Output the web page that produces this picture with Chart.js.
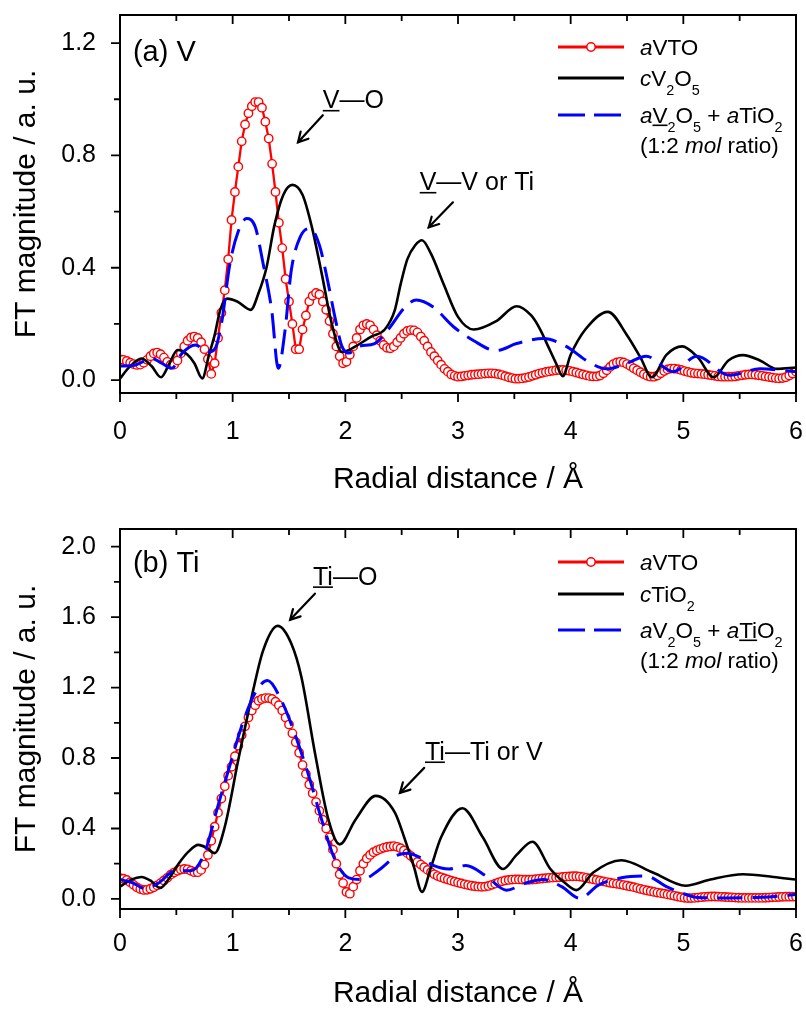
<!DOCTYPE html>
<html><head><meta charset="utf-8">
<script src="https://cdn.jsdelivr.net/npm/chart.js@4/dist/chart.umd.min.js"></script>
<style>
html,body{margin:0;padding:0;background:#fff;}
#wrap{position:relative;width:806px;height:1009px;background:#fff;}
#ca{position:absolute;left:0;top:0;}
#cb{position:absolute;left:0;top:505px;}
</style></head><body>
<div id="wrap"><canvas id="ca" width="806" height="505"></canvas><canvas id="cb" width="806" height="504"></canvas></div>
<script>
const FONT = '"Liberation Sans", Arial, Helvetica, sans-serif';

// ---------- ticks ----------
const xTickValues = [0,1,2,3,4,5,6];
const xTickLabels = ['0','1','2','3','4','5','6'];
const xTickMarks = [0,0.5,1,1.5,2,2.5,3,3.5,4,4.5,5,5.5,6];
const yTickValuesA = [0,0.4,0.8,1.2];
const yTickLabelsA = ['0.0','0.4','0.8','1.2'];
const yTickMarksA = [0,0.2,0.4,0.6,0.8,1.0,1.2];
const yTickValuesB = [0,0.4,0.8,1.2,1.6,2.0];
const yTickLabelsB = ['0.0','0.4','0.8','1.2','1.6','2.0'];
const yTickMarksB = [0,0.2,0.4,0.6,0.8,1.0,1.2,1.4,1.6,1.8,2.0];

// ---------- (a) V K-edge ----------
const rStep = 0.03; // radial sampling of the aVTO curves (Å)
const aVTO_V = [
0.074,0.072,0.068,0.062,0.057,0.054,0.055,0.062,0.072,0.085,
0.095,0.098,0.092,0.08,0.065,0.055,0.055,0.07,0.095,0.12,
0.14,0.152,0.155,0.15,0.135,0.11,0.075,0.022,0.06,0.15,
0.24,0.32,0.43,0.57,0.67,0.76,0.85,0.91,0.95,0.975,
0.99,0.99,0.97,0.92,0.86,0.77,0.67,0.56,0.47,0.36,
0.28,0.20,0.11,0.11,0.18,0.23,0.28,0.30,0.31,0.305,
0.28,0.25,0.21,0.165,0.12,0.085,0.06,0.065,0.09,0.12,
0.15,0.18,0.195,0.2,0.195,0.18,0.16,0.14,0.125,0.115,
0.113,0.12,0.135,0.15,0.165,0.175,0.178,0.177,0.17,0.155,
0.14,0.12,0.10,0.085,0.07,0.055,0.04,0.03,0.02,0.015,
0.012,0.013,0.015,0.017,0.019,0.02,0.021,0.022,0.023,0.024,
0.024,0.023,0.021,0.018,0.014,0.01,0.007,0.005,0.005,0.006,
0.008,0.011,0.015,0.019,0.023,0.026,0.029,0.031,0.033,0.035,
0.036,0.036,0.035,0.033,0.03,0.027,0.023,0.02,0.017,0.014,
0.013,0.013,0.016,0.024,0.035,0.047,0.057,0.063,0.065,0.063,
0.057,0.05,0.042,0.035,0.028,0.021,0.015,0.012,0.012,0.016,
0.024,0.032,0.038,0.041,0.041,0.039,0.036,0.032,0.029,0.026,
0.024,0.023,0.022,0.021,0.019,0.017,0.015,0.013,0.012,0.012,
0.012,0.012,0.013,0.015,0.017,0.019,0.02,0.02,0.019,0.017,
0.015,0.013,0.011,0.009,0.007,0.006,0.007,0.01,0.016,0.023,
0.03];

const cV2O5_r = [0,0.08,0.19,0.28,0.364,0.44,0.51,0.6,0.66,0.73,0.79,0.84,0.89,0.95,1.04,1.16,1.23,1.30,1.37,1.45,1.53,1.62,1.70,1.79,1.88,1.97,2.09,2.23,2.35,2.44,2.49,2.55,2.62,2.68,2.76,2.87,3.0,3.14,3.34,3.52,3.65,3.73,3.80,3.87,3.93,4.0,4.13,4.33,4.5,4.62,4.72,4.85,4.99,5.13,5.27,5.40,5.53,5.68,5.83,6.0];
const cV2O5_V = [0.005,0.045,0.077,0.05,0.01,0.06,0.107,0.09,0.06,0.006,0.09,0.16,0.25,0.29,0.28,0.25,0.31,0.40,0.55,0.66,0.695,0.66,0.55,0.38,0.2,0.10,0.12,0.155,0.18,0.25,0.34,0.43,0.48,0.498,0.45,0.344,0.225,0.18,0.21,0.263,0.23,0.18,0.12,0.06,0.014,0.09,0.18,0.243,0.16,0.08,0.01,0.09,0.12,0.08,0.01,0.07,0.089,0.07,0.04,0.045];

const mixV_r = [0,0.13,0.28,0.37,0.46,0.55,0.67,0.78,0.84,0.9,0.976,1.05,1.124,1.2,1.27,1.346,1.405,1.465,1.52,1.6,1.686,1.77,1.85,1.91,1.97,2.03,2.12,2.26,2.38,2.53,2.63,2.78,2.96,3.14,3.34,3.52,3.76,3.96,4.17,4.32,4.5,4.67,4.91,5.12,5.41,5.68,6.0];
const mixV_V = [0.05,0.053,0.077,0.06,0.042,0.095,0.125,0.10,0.11,0.20,0.415,0.53,0.575,0.546,0.415,0.25,0.042,0.178,0.39,0.51,0.54,0.48,0.34,0.22,0.12,0.096,0.12,0.13,0.18,0.26,0.285,0.26,0.19,0.14,0.105,0.13,0.148,0.12,0.062,0.04,0.06,0.085,0.03,0.085,0.017,0.04,0.03];

// ---------- (b) Ti K-edge ----------
const aVTO_Ti = [
0.118,0.115,0.108,0.095,0.08,0.066,0.056,0.051,0.052,0.058,
0.066,0.077,0.09,0.105,0.12,0.138,0.15,0.16,0.167,0.17,
0.168,0.16,0.152,0.152,0.165,0.195,0.25,0.33,0.41,0.49,
0.57,0.64,0.70,0.75,0.81,0.87,0.93,0.98,1.03,1.07,
1.10,1.125,1.135,1.14,1.14,1.135,1.12,1.10,1.07,1.03,
0.99,0.94,0.89,0.83,0.76,0.71,0.65,0.60,0.55,0.50,
0.45,0.40,0.35,0.28,0.20,0.14,0.09,0.04,0.03,0.07,
0.11,0.16,0.20,0.23,0.25,0.265,0.275,0.283,0.29,0.295,
0.298,0.30,0.296,0.288,0.275,0.26,0.245,0.228,0.21,0.195,
0.18,0.165,0.152,0.14,0.13,0.123,0.116,0.11,0.104,0.098,
0.093,0.088,0.083,0.079,0.075,0.072,0.07,0.069,0.07,0.074,
0.08,0.087,0.094,0.10,0.105,0.108,0.11,0.111,0.111,0.11,
0.109,0.109,0.11,0.112,0.114,0.116,0.118,0.12,0.121,0.122,
0.123,0.125,0.127,0.128,0.129,0.129,0.127,0.124,0.12,0.116,
0.112,0.108,0.104,0.10,0.096,0.092,0.089,0.086,0.083,0.079,
0.075,0.071,0.067,0.062,0.057,0.052,0.048,0.044,0.04,0.036,
0.033,0.03,0.026,0.022,0.018,0.014,0.01,0.007,0.005,0.005,
0.006,0.008,0.01,0.012,0.013,0.014,0.014,0.013,0.012,0.011,
0.01,0.009,0.008,0.007,0.006,0.006,0.006,0.006,0.006,0.006,
0.006,0.007,0.008,0.009,0.01,0.011,0.012,0.013,0.013,0.013,
0.013];

const cTiO2_r = [0,0.1,0.19,0.28,0.355,0.44,0.52,0.61,0.695,0.77,0.84,0.93,1.05,1.17,1.27,1.40,1.52,1.61,1.73,1.85,1.95,2.09,2.27,2.44,2.53,2.61,2.68,2.76,2.85,3.04,3.22,3.40,3.52,3.66,3.82,3.95,4.05,4.2,4.45,4.73,5.02,5.24,5.53,5.8,6.0];
const cTiO2_Ti = [0.07,0.11,0.125,0.1,0.062,0.12,0.2,0.27,0.307,0.29,0.26,0.41,0.79,1.15,1.41,1.55,1.45,1.26,0.83,0.45,0.31,0.45,0.585,0.49,0.335,0.18,0.04,0.18,0.35,0.515,0.35,0.17,0.25,0.325,0.17,0.09,0.05,0.15,0.22,0.15,0.075,0.11,0.14,0.125,0.11];

const mixTi_r = [0,0.1,0.22,0.34,0.49,0.63,0.75,0.87,0.99,1.08,1.2,1.31,1.43,1.55,1.67,1.79,1.91,2.03,2.15,2.29,2.47,2.55,2.68,2.78,2.92,3.07,3.25,3.43,3.6,3.76,3.92,4.08,4.25,4.45,4.67,4.85,5.0,5.13,5.4,5.7,6.0];
const mixTi_Ti = [0.11,0.095,0.06,0.09,0.16,0.16,0.26,0.53,0.79,0.98,1.17,1.24,1.13,0.94,0.71,0.45,0.22,0.12,0.11,0.16,0.25,0.26,0.23,0.19,0.17,0.19,0.13,0.05,0.09,0.11,0.07,0.004,0.08,0.12,0.13,0.07,0.03,0.008,0.006,0.01,0.025];

// ---------- helpers ----------
function xyFromGrid(vals){ return vals.map((v,i)=>({x:+(i*rStep).toFixed(4), y:v})); }
function xyPairs(xs, ys){ return xs.map((x,i)=>({x:x, y:ys[i]})); }

function drawRich(ctx, x, yc, parts, size){
  const base = yc + 0.358*size;
  let cx = x;
  ctx.textBaseline = 'alphabetic';
  ctx.textAlign = 'left';
  for (const p of parts){
    const fs = p.sub ? size*0.64 : size;
    ctx.font = (p.i ? 'italic ' : '') + fs + 'px ' + FONT;
    const by = p.sub ? base + size*0.38 : base;
    ctx.fillText(p.t, cx, by);
    const w = ctx.measureText(p.t).width;
    if (p.u){
      ctx.save(); ctx.lineWidth = 1.6; ctx.beginPath();
      ctx.moveTo(cx, base + size*0.1); ctx.lineTo(cx + w, base + size*0.1); ctx.stroke(); ctx.restore();
    }
    cx += w;
  }
}
function arrow(ctx, x1, y1, x2, y2){
  ctx.save(); ctx.lineWidth = 2.2; ctx.lineCap = 'round';
  ctx.beginPath(); ctx.moveTo(x1,y1); ctx.lineTo(x2,y2); ctx.stroke();
  const ang = Math.atan2(y2-y1, x2-x1), L = 11, s = 0.5;
  ctx.beginPath();
  ctx.moveTo(x2 - L*Math.cos(ang - s), y2 - L*Math.sin(ang - s));
  ctx.lineTo(x2, y2);
  ctx.lineTo(x2 - L*Math.cos(ang + s), y2 - L*Math.sin(ang + s));
  ctx.stroke(); ctx.restore();
}

const decor = {
  id: 'decor',
  afterDraw(chart, args, o){
    const ctx = chart.ctx, a = chart.chartArea, xs = chart.scales.x, ys = chart.scales.y;
    ctx.save();
    ctx.strokeStyle = '#000'; ctx.fillStyle = '#000';
    // tick marks
    ctx.lineWidth = 1.8;
    ctx.beginPath();
    for (const v of o.xMarks){
      const px = xs.getPixelForValue(v);
      const L = o.xMajor.includes(v) ? 9 : 6;
      ctx.moveTo(px, a.bottom); ctx.lineTo(px, a.bottom + L);
      ctx.moveTo(px, a.top); ctx.lineTo(px, a.top + L);
    }
    for (const v of o.yMarks){
      const py = ys.getPixelForValue(v);
      const L = o.yMajor.includes(v) ? 9 : 6;
      ctx.moveTo(a.left, py); ctx.lineTo(a.left - L, py);
    }
    ctx.stroke();
    // frame
    ctx.lineWidth = 2;
    ctx.strokeRect(a.left, a.top, a.right - a.left, a.bottom - a.top);
    // legend
    const lg = o.legend;
    for (const row of lg.rows){
      const y = a.top + row.dy;
      ctx.save();
      if (row.kind === 'marker'){
        ctx.strokeStyle = '#ff0000'; ctx.lineWidth = 2.8;
        ctx.beginPath(); ctx.moveTo(lg.x0, y); ctx.lineTo(lg.x1, y); ctx.stroke();
        ctx.fillStyle = '#fff'; ctx.lineWidth = 1.5;
        ctx.beginPath(); ctx.arc((lg.x0+lg.x1)/2, y, 4.2, 0, Math.PI*2); ctx.fill(); ctx.stroke();
      } else if (row.kind === 'line'){
        ctx.strokeStyle = '#000'; ctx.lineWidth = 2.8;
        ctx.beginPath(); ctx.moveTo(lg.x0, y); ctx.lineTo(lg.x1, y); ctx.stroke();
      } else if (row.kind === 'dash'){
        ctx.strokeStyle = '#0000ff'; ctx.lineWidth = 3; ctx.setLineDash([27,9]);
        ctx.beginPath(); ctx.moveTo(lg.x0, y); ctx.lineTo(lg.x1 - 3, y); ctx.stroke();
      }
      ctx.restore();
      drawRich(ctx, lg.tx, y, row.parts, lg.size);
    }
    // annotations
    for (const t of o.texts){
      drawRich(ctx, xs.getPixelForValue(t.x), ys.getPixelForValue(t.y), t.parts, t.size);
    }
    for (const ar of o.arrows){
      arrow(ctx, xs.getPixelForValue(ar.x1), ys.getPixelForValue(ar.y1), xs.getPixelForValue(ar.x2), ys.getPixelForValue(ar.y2));
    }
    ctx.restore();
  }
};

function buildChart(canvas, p){
  return new Chart(canvas, {
    type: 'line',
    data: { datasets: [
      { label: 'aVTO', data: p.red, borderColor: '#ff0000', borderWidth: 2.3, tension: 0,
        pointRadius: 4.2, pointBorderWidth: 1.4, pointBackgroundColor: '#ffffff', pointBorderColor: '#ff0000', order: 3 },
      { label: p.blackLabel, data: p.black, borderColor: '#000000', borderWidth: 2.6, pointRadius: 0,
        cubicInterpolationMode: 'monotone', order: 2 },
      { label: 'mix', data: p.blue, borderColor: '#0000ff', borderWidth: 3, borderDash: [25,10], pointRadius: 0,
        cubicInterpolationMode: 'monotone', order: 1 }
    ]},
    options: {
      responsive: false, animation: false, events: [],
      layout: { padding: { top: p.top, right: 10, left: 0, bottom: 0 } },
      plugins: { legend: { display: false }, tooltip: { enabled: false }, decor: p.decor },
      scales: {
        x: { type: 'linear', min: 0, max: 6,
          grid: { display: false, drawTicks: false }, border: { display: false },
          afterBuildTicks: s => { s.ticks = xTickValues.map(v => ({ value: v })); },
          afterFit: s => { s.height = p.xh; s.paddingLeft = 0; s.paddingRight = 0; s.paddingTop = 0; s.paddingBottom = 0; },
          ticks: { font: { family: FONT, size: 25 }, color: '#000', padding: p.xpad, maxRotation: 0, autoSkip: false,
            callback: (v, i) => xTickLabels[i] },
          title: { display: true, text: 'Radial distance / Å', color: '#000',
            font: { family: FONT, size: 30, lineHeight: 1 }, padding: { top: 0, bottom: p.xtitlePad } } },
        y: { type: 'linear', min: p.ymin, max: p.ymax,
          grid: { display: false, drawTicks: false }, border: { display: false },
          afterBuildTicks: s => { s.ticks = p.yTicks.map(v => ({ value: v })); },
          afterFit: s => { s.width = 120; s.paddingLeft = 0; s.paddingRight = 0; s.paddingTop = 0; s.paddingBottom = 0; },
          ticks: { font: { family: FONT, size: 25 }, color: '#000', padding: 24,
            callback: (v, i) => p.yLabels[i] },
          title: { display: true, text: 'FT magnitude / a. u.', color: '#000',
            font: { family: FONT, size: 30, lineHeight: 1 }, padding: { top: 12, bottom: 0 } } }
      }
    },
    plugins: [decor]
  });
}

const LEG = { x0: 558, x1: 624, tx: 640, size: 22.5 };

buildChart(document.getElementById('ca'), {
  red: xyFromGrid(aVTO_V), black: xyPairs(cV2O5_r, cV2O5_V), blue: xyPairs(mixV_r, mixV_V),
  blackLabel: 'cV2O5', top: 15, xh: 112, xpad: 24, xtitlePad: 10,
  ymin: -0.046, ymax: 1.30, yTicks: yTickValuesA, yLabels: yTickLabelsA,
  decor: {
    xMarks: xTickMarks, xMajor: xTickValues, yMarks: yTickMarksA, yMajor: yTickValuesA,
    legend: Object.assign({}, LEG, { rows: [
      { kind: 'marker', dy: 32, parts: [{t:'a',i:1},{t:'VTO'}] },
      { kind: 'line', dy: 63, parts: [{t:'c',i:1},{t:'V'},{t:'2',sub:1},{t:'O'},{t:'5',sub:1}] },
      { kind: 'dash', dy: 100, parts: [{t:'a',i:1},{t:'V',u:1},{t:'2',sub:1},{t:'O'},{t:'5',sub:1},{t:' + '},{t:'a',i:1},{t:'TiO'},{t:'2',sub:1}] },
      { kind: 'none', dy: 130, parts: [{t:'(1:2 '},{t:'mol',i:1},{t:' ratio)'}] }
    ]}),
    texts: [
      { x: 0.115, y: 1.174, size: 29, parts: [{t:'(a) V'}] },
      { x: 1.80, y: 1.0, size: 25, parts: [{t:'V',u:1},{t:'—O'}] },
      { x: 2.66, y: 0.708, size: 25, parts: [{t:'V',u:1},{t:'—V or Ti'}] }
    ],
    arrows: [
      { x1: 1.80, y1: 0.943, x2: 1.58, y2: 0.847 },
      { x1: 2.955, y1: 0.633, x2: 2.74, y2: 0.544 }
    ]
  }
});

buildChart(document.getElementById('cb'), {
  red: xyFromGrid(aVTO_Ti), black: xyPairs(cTiO2_r, cTiO2_Ti), blue: xyPairs(mixTi_r, mixTi_Ti),
  blackLabel: 'cTiO2', top: 24, xh: 100, xpad: 20, xtitlePad: 0,
  ymin: -0.057, ymax: 2.10, yTicks: yTickValuesB, yLabels: yTickLabelsB,
  decor: {
    xMarks: xTickMarks, xMajor: xTickValues, yMarks: yTickMarksB, yMajor: yTickValuesB,
    legend: Object.assign({}, LEG, { rows: [
      { kind: 'marker', dy: 33, parts: [{t:'a',i:1},{t:'VTO'}] },
      { kind: 'line', dy: 65, parts: [{t:'c',i:1},{t:'TiO'},{t:'2',sub:1}] },
      { kind: 'dash', dy: 101, parts: [{t:'a',i:1},{t:'V'},{t:'2',sub:1},{t:'O'},{t:'5',sub:1},{t:' + '},{t:'a',i:1},{t:'Ti',u:1},{t:'O'},{t:'2',sub:1}] },
      { kind: 'none', dy: 131, parts: [{t:'(1:2 '},{t:'mol',i:1},{t:' ratio)'}] }
    ]}),
    texts: [
      { x: 0.115, y: 1.915, size: 29, parts: [{t:'(b) Ti'}] },
      { x: 1.713, y: 1.835, size: 25, parts: [{t:'Ti',u:1},{t:'—O'}] },
      { x: 2.707, y: 0.841, size: 25, parts: [{t:'Ti',u:1},{t:'—Ti or V'}] }
    ],
    arrows: [
      { x1: 1.73, y1: 1.733, x2: 1.51, y2: 1.585 },
      { x1: 2.70, y1: 0.744, x2: 2.485, y2: 0.602 }
    ]
  }
});
</script>
</body></html>
